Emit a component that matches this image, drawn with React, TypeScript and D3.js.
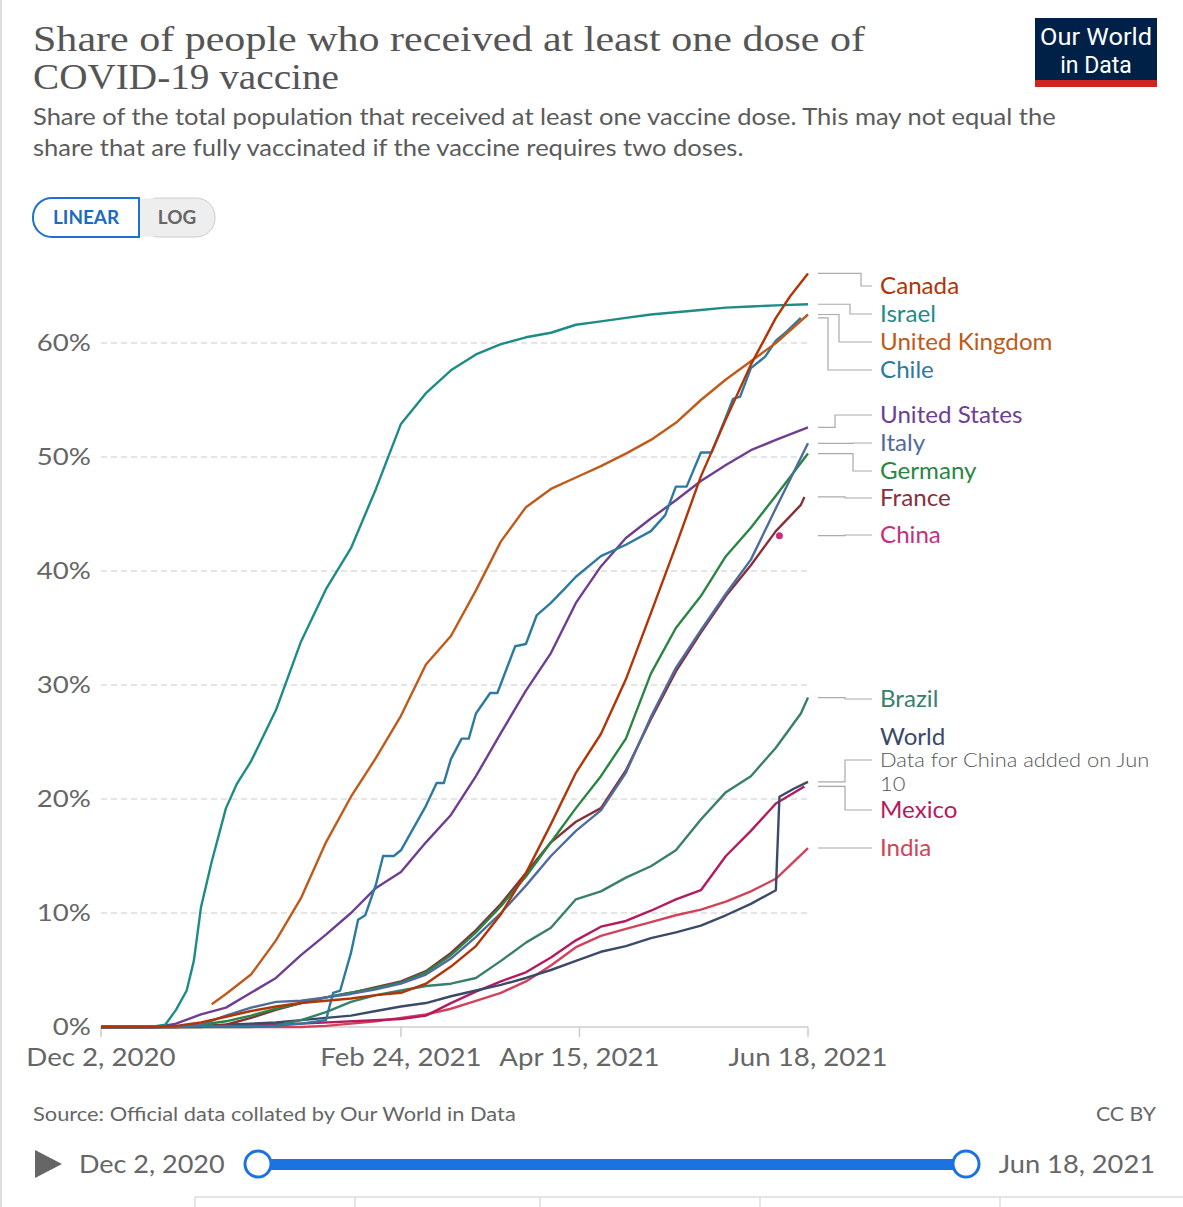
import React from "react";
import * as d3 from "d3";

type P = [string, number];

const START = "2020-12-02";
const END = "2021-06-18";

const canada: P[] = [
  ["2020-12-02", 0], ["2020-12-16", 0], ["2020-12-23", 0.1], ["2020-12-30", 0.4], ["2021-01-06", 0.9],
  ["2021-01-13", 1.4], ["2021-01-20", 1.8], ["2021-01-27", 2.1], ["2021-02-03", 2.3], ["2021-02-10", 2.5],
  ["2021-02-17", 2.8], ["2021-02-24", 3.0], ["2021-03-03", 3.8], ["2021-03-10", 5.3], ["2021-03-17", 7.1],
  ["2021-03-24", 9.9], ["2021-03-31", 13.5], ["2021-04-07", 17.8], ["2021-04-14", 22.3], ["2021-04-21", 25.7],
  ["2021-04-28", 30.5], ["2021-05-05", 36.3], ["2021-05-12", 42.2], ["2021-05-19", 48.3], ["2021-05-26", 53.3],
  ["2021-06-02", 58.1], ["2021-06-09", 62.2], ["2021-06-13", 64.1], ["2021-06-18", 66.1],
];

const israel: P[] = [
  ["2020-12-02", 0], ["2020-12-16", 0], ["2020-12-20", 0.2], ["2020-12-23", 1.5], ["2020-12-26", 3.2],
  ["2020-12-28", 5.8], ["2020-12-30", 10.5], ["2021-01-02", 14.5], ["2021-01-06", 19.2], ["2021-01-09", 21.3],
  ["2021-01-13", 23.3], ["2021-01-20", 27.8], ["2021-01-27", 33.8], ["2021-02-03", 38.4], ["2021-02-10", 42.0],
  ["2021-02-17", 47.2], ["2021-02-24", 52.9], ["2021-03-03", 55.6], ["2021-03-10", 57.6], ["2021-03-17", 59.0],
  ["2021-03-24", 59.9], ["2021-03-31", 60.5], ["2021-04-07", 60.9], ["2021-04-14", 61.6], ["2021-04-21", 61.9],
  ["2021-04-28", 62.2], ["2021-05-05", 62.5], ["2021-05-12", 62.7], ["2021-05-19", 62.9], ["2021-05-26", 63.1],
  ["2021-06-02", 63.2], ["2021-06-09", 63.3], ["2021-06-18", 63.4],
];

const unitedKingdom: P[] = [
  ["2021-01-02", 2.0], ["2021-01-06", 2.9], ["2021-01-13", 4.6], ["2021-01-20", 7.6], ["2021-01-27", 11.3],
  ["2021-02-03", 16.2], ["2021-02-10", 20.2], ["2021-02-17", 23.6], ["2021-02-24", 27.3], ["2021-03-03", 31.8],
  ["2021-03-10", 34.3], ["2021-03-17", 38.3], ["2021-03-24", 42.6], ["2021-03-31", 45.6], ["2021-04-07", 47.2],
  ["2021-04-14", 48.2], ["2021-04-21", 49.2], ["2021-04-28", 50.3], ["2021-05-05", 51.5], ["2021-05-12", 53.0],
  ["2021-05-19", 55.0], ["2021-05-26", 56.8], ["2021-06-02", 58.4], ["2021-06-09", 60.0], ["2021-06-18", 62.5],
];

const chile: P[] = [
  ["2020-12-02", 0], ["2021-01-20", 0.1], ["2021-01-27", 0.3], ["2021-02-03", 0.6], ["2021-02-05", 3.0],
  ["2021-02-07", 3.2], ["2021-02-10", 6.5], ["2021-02-12", 9.4], ["2021-02-14", 9.8], ["2021-02-17", 12.5],
  ["2021-02-19", 15.0], ["2021-02-22", 15.0], ["2021-02-24", 15.5], ["2021-03-03", 19.4], ["2021-03-06", 21.4],
  ["2021-03-08", 21.4], ["2021-03-10", 23.5], ["2021-03-13", 25.3], ["2021-03-15", 25.3], ["2021-03-17", 27.5],
  ["2021-03-21", 29.3], ["2021-03-23", 29.3], ["2021-03-28", 33.4], ["2021-03-31", 33.6], ["2021-04-03", 36.1],
  ["2021-04-07", 37.2], ["2021-04-11", 38.5], ["2021-04-14", 39.5], ["2021-04-21", 41.3], ["2021-04-28", 42.3],
  ["2021-05-05", 43.5], ["2021-05-09", 44.9], ["2021-05-12", 47.4], ["2021-05-15", 47.4], ["2021-05-19", 50.4],
  ["2021-05-22", 50.4], ["2021-05-26", 53.5], ["2021-05-28", 55.1], ["2021-05-30", 55.3], ["2021-06-02", 57.8],
  ["2021-06-06", 58.8], ["2021-06-09", 60.2], ["2021-06-12", 61.0], ["2021-06-16", 62.2],
];

const unitedStates: P[] = [
  ["2020-12-02", 0], ["2020-12-18", 0], ["2020-12-23", 0.3], ["2020-12-30", 1.1], ["2021-01-06", 1.7],
  ["2021-01-13", 3.0], ["2021-01-20", 4.3], ["2021-01-27", 6.3], ["2021-02-03", 8.1], ["2021-02-10", 10.0],
  ["2021-02-17", 12.2], ["2021-02-24", 13.6], ["2021-03-03", 16.2], ["2021-03-10", 18.6], ["2021-03-17", 22.0],
  ["2021-03-24", 25.8], ["2021-03-31", 29.5], ["2021-04-07", 32.8], ["2021-04-14", 37.2], ["2021-04-21", 40.4],
  ["2021-04-28", 42.9], ["2021-05-05", 44.6], ["2021-05-12", 46.2], ["2021-05-19", 47.9], ["2021-05-26", 49.3],
  ["2021-06-02", 50.6], ["2021-06-09", 51.5], ["2021-06-18", 52.6],
];

const italy: P[] = [
  ["2020-12-02", 0], ["2020-12-23", 0], ["2020-12-30", 0.2], ["2021-01-06", 1.0], ["2021-01-13", 1.7],
  ["2021-01-20", 2.2], ["2021-01-27", 2.3], ["2021-02-03", 2.6], ["2021-02-10", 2.9], ["2021-02-17", 3.3],
  ["2021-02-24", 3.8], ["2021-03-03", 4.6], ["2021-03-10", 6.0], ["2021-03-17", 7.9], ["2021-03-24", 10.0],
  ["2021-03-31", 12.4], ["2021-04-07", 15.0], ["2021-04-14", 17.2], ["2021-04-21", 19.0], ["2021-04-28", 22.3],
  ["2021-05-05", 27.2], ["2021-05-12", 31.5], ["2021-05-19", 34.8], ["2021-05-26", 38.0], ["2021-06-02", 41.0],
  ["2021-06-09", 45.5], ["2021-06-18", 51.2],
];

const germany: P[] = [
  ["2020-12-02", 0], ["2020-12-23", 0], ["2020-12-30", 0.2], ["2021-01-06", 0.5], ["2021-01-13", 1.0],
  ["2021-01-20", 1.6], ["2021-01-27", 2.1], ["2021-02-03", 2.6], ["2021-02-10", 3.0], ["2021-02-17", 3.4],
  ["2021-02-24", 3.9], ["2021-03-03", 4.8], ["2021-03-10", 6.3], ["2021-03-17", 8.3], ["2021-03-24", 10.6],
  ["2021-03-31", 13.2], ["2021-04-07", 16.2], ["2021-04-14", 19.2], ["2021-04-21", 22.0], ["2021-04-28", 25.3],
  ["2021-05-05", 31.0], ["2021-05-12", 35.0], ["2021-05-19", 37.8], ["2021-05-26", 41.3], ["2021-06-02", 43.8],
  ["2021-06-09", 46.6], ["2021-06-18", 50.3],
];

const france: P[] = [
  ["2020-12-02", 0], ["2020-12-30", 0], ["2021-01-06", 0.2], ["2021-01-13", 0.8], ["2021-01-20", 1.5],
  ["2021-01-27", 2.1], ["2021-02-03", 2.6], ["2021-02-10", 3.0], ["2021-02-17", 3.5], ["2021-02-24", 4.0],
  ["2021-03-03", 4.9], ["2021-03-10", 6.5], ["2021-03-17", 8.5], ["2021-03-24", 10.8], ["2021-03-31", 13.5],
  ["2021-04-07", 16.2], ["2021-04-14", 18.0], ["2021-04-21", 19.2], ["2021-04-28", 22.5], ["2021-05-05", 27.0],
  ["2021-05-12", 31.2], ["2021-05-19", 34.6], ["2021-05-26", 37.8], ["2021-06-02", 40.5], ["2021-06-09", 43.5],
  ["2021-06-16", 45.8], ["2021-06-17", 46.5],
];

const china: P[] = [["2021-06-10", 43.1]];

const brazil: P[] = [
  ["2020-12-02", 0], ["2021-01-13", 0], ["2021-01-20", 0.1], ["2021-01-27", 0.6], ["2021-02-03", 1.3],
  ["2021-02-10", 2.2], ["2021-02-17", 2.8], ["2021-02-24", 3.2], ["2021-03-03", 3.6], ["2021-03-10", 3.8],
  ["2021-03-17", 4.3], ["2021-03-24", 5.8], ["2021-03-31", 7.4], ["2021-04-07", 8.7], ["2021-04-14", 11.2],
  ["2021-04-21", 11.9], ["2021-04-28", 13.1], ["2021-05-05", 14.1], ["2021-05-12", 15.5], ["2021-05-19", 18.2],
  ["2021-05-26", 20.6], ["2021-06-02", 22.0], ["2021-06-09", 24.5], ["2021-06-16", 27.5], ["2021-06-18", 28.9],
];

const world: P[] = [
  ["2020-12-02", 0], ["2020-12-16", 0], ["2020-12-23", 0.05], ["2020-12-30", 0.1], ["2021-01-06", 0.2],
  ["2021-01-13", 0.3], ["2021-01-20", 0.4], ["2021-01-27", 0.6], ["2021-02-03", 0.8], ["2021-02-10", 1.0],
  ["2021-02-17", 1.4], ["2021-02-24", 1.8], ["2021-03-03", 2.1], ["2021-03-10", 2.7], ["2021-03-17", 3.2],
  ["2021-03-24", 3.7], ["2021-03-31", 4.3], ["2021-04-07", 5.0], ["2021-04-14", 5.8], ["2021-04-21", 6.6],
  ["2021-04-28", 7.1], ["2021-05-05", 7.8], ["2021-05-12", 8.3], ["2021-05-19", 8.9], ["2021-05-26", 9.8],
  ["2021-06-02", 10.8], ["2021-06-09", 12.0], ["2021-06-10", 20.2], ["2021-06-14", 20.9], ["2021-06-18", 21.5],
];

const mexico: P[] = [
  ["2020-12-02", 0], ["2020-12-23", 0], ["2020-12-30", 0.05], ["2021-01-27", 0.3], ["2021-02-24", 0.7],
  ["2021-03-03", 1.0], ["2021-03-10", 2.1], ["2021-03-17", 3.1], ["2021-03-24", 4.0], ["2021-03-31", 4.8],
  ["2021-04-07", 6.1], ["2021-04-14", 7.6], ["2021-04-21", 8.8], ["2021-04-28", 9.3], ["2021-05-05", 10.2],
  ["2021-05-12", 11.2], ["2021-05-19", 12.0], ["2021-05-26", 15.0], ["2021-06-02", 17.2], ["2021-06-09", 19.6],
  ["2021-06-17", 21.1],
];

const india: P[] = [
  ["2020-12-02", 0], ["2021-01-27", 0], ["2021-02-03", 0.1], ["2021-02-10", 0.3], ["2021-02-17", 0.5],
  ["2021-02-24", 0.8], ["2021-03-03", 1.1], ["2021-03-10", 1.6], ["2021-03-17", 2.3], ["2021-03-24", 3.0],
  ["2021-03-31", 4.0], ["2021-04-07", 5.4], ["2021-04-14", 7.0], ["2021-04-21", 8.0], ["2021-04-28", 8.6],
  ["2021-05-05", 9.2], ["2021-05-12", 9.8], ["2021-05-19", 10.3], ["2021-05-26", 11.0], ["2021-06-02", 11.9],
  ["2021-06-09", 13.0], ["2021-06-18", 15.7],
];

const yTicks = [0, 10, 20, 30, 40, 50, 60];
const xTickDates = ["2020-12-02", "2021-02-24", "2021-04-15", "2021-06-18"];
const xTickLabels = ["Dec 2, 2020", "Feb 24, 2021", "Apr 15, 2021", "Jun 18, 2021"];

const seriesNames = ["India", "Mexico", "World", "Brazil", "France", "Germany", "Italy", "United States", "Chile", "United Kingdom", "Israel", "Canada"];
const seriesData: P[][] = [india, mexico, world, brazil, france, germany, italy, unitedStates, chile, unitedKingdom, israel, canada];
const seriesColors = ["#D2435B", "#B41B5E", "#3B4A68", "#38806B", "#883039", "#2A8543", "#4F6C9E", "#6D3E91", "#2D7AA0", "#C05A1A", "#1E8C86", "#B13507"];

// label layout: name, label y, bend x
const labelLayout: [string, number, number][] = [
  ["Canada", 286, 861], ["Israel", 314, 850], ["United Kingdom", 342, 839], ["Chile", 370, 828],
  ["United States", 415, 835], ["Italy", 443, 853], ["Germany", 471, 853], ["France", 498, 845],
  ["China", 535, 845], ["Brazil", 699, 845], ["Mexico", 810, 845], ["India", 848, 845],
];

const parse = d3.timeParse("%Y-%m-%d");
const FONT = "Lato, 'Noto Sans', sans-serif";

function SText(props: {
  x: number; y: number; sx: number; size: number; fill: string; anchor?: "start" | "middle" | "end";
  weight?: number; dy?: string; children: React.ReactNode;
}) {
  const { x, y, sx, size, fill, anchor = "start", weight = 400, dy, children } = props;
  return (
    <text
      transform={`translate(${x},${y}) scale(${sx},1)`}
      x={0}
      y={0}
      dy={dy}
      textAnchor={anchor}
      fontFamily={FONT}
      fontSize={size}
      fontWeight={weight}
      fill={fill}
    >
      {children}
    </text>
  );
}

export default function App() {
  const W = 1183, H = 1207;
  const x = d3.scaleTime().domain([parse(START)!, parse(END)!]).range([101, 808]);
  const y = d3.scaleLinear().domain([0, 60]).range([1027, 343]);
  const line = d3.line<P>().x((d) => x(parse(d[0])!)).y((d) => y(d[1]));

  const colorOf = (n: string) => (n === "China" ? "#C5307E" : seriesColors[seriesNames.indexOf(n)]);
  const endOf = (n: string): P => {
    if (n === "China") return china[china.length - 1];
    const d = seriesData[seriesNames.indexOf(n)];
    return d[d.length - 1];
  };

  const worldEnd = world[world.length - 1];
  const mexicoEnd = mexico[mexico.length - 1];

  return (
    <div style={{ position: "absolute", left: 0, top: 0 }}>
      <svg width={W} height={H} viewBox={`0 0 ${W} ${H}`} style={{ display: "block", background: "#fff" }}>
        <rect x={0} y={0} width={W} height={H} fill="#fff" />
        <line x1={1} x2={1} y1={0} y2={H} stroke="#ddd" strokeWidth={2} />

        {/* Title */}
        <text x={33} y={51} fontFamily="'Liberation Serif', 'DejaVu Serif', serif" fontSize={36} fill="#555" textLength={832} lengthAdjust="spacingAndGlyphs">
          Share of people who received at least one dose of
        </text>
        <text x={33} y={89} fontFamily="'Liberation Serif', 'DejaVu Serif', serif" fontSize={36} fill="#555" textLength={306} lengthAdjust="spacingAndGlyphs">
          COVID-19 vaccine
        </text>
        <SText x={33} y={125} sx={1.135} size={22.5} fill="#5b5b5b">
          Share of the total population that received at least one vaccine dose. This may not equal the
        </SText>
        <SText x={33} y={156} sx={1.135} size={22.5} fill="#5b5b5b">
          share that are fully vaccinated if the vaccine requires two doses.
        </SText>

        {/* Logo */}
        <rect x={1035} y={18} width={122} height={69} fill="#002147" />
        <rect x={1035} y={80} width={122} height={7} fill="#CE261E" />
        <text x={1096} y={45} textAnchor="middle" fontFamily="'Roboto', 'Liberation Sans', sans-serif" fontSize={23} fill="#fff" textLength={112} lengthAdjust="spacingAndGlyphs">Our World</text>
        <text x={1096} y={73} textAnchor="middle" fontFamily="'Roboto', 'Liberation Sans', sans-serif" fontSize={23} fill="#fff">in Data</text>

        {/* Linear/Log toggle */}
        <rect x={139} y={198} width={76} height={39} rx={19} fill="#eee" stroke="#ccc" strokeWidth={1} />
        <rect x={125} y={198.5} width={30} height={38} fill="#eee" />
        <path d="M139,198 L52,198 A19,19 0 0 0 33,217 A19,19 0 0 0 52,237 L139,237 Z" fill="#fff" stroke="#1b73cf" strokeWidth={2} />
        <SText x={86} y={224} sx={1.05} size={18} weight={700} fill="#1b6cc0" anchor="middle">LINEAR</SText>
        <SText x={177} y={224} sx={1.05} size={18} weight={700} fill="#666" anchor="middle">LOG</SText>

        {/* Grid */}
        {yTicks.map((t) => (
          <g key={t}>
            {t > 0 && (
              <line x1={101} x2={808} y1={y(t)} y2={y(t)} stroke="#ddd" strokeWidth={1.5} strokeDasharray="6,4" />
            )}
            <SText x={91} y={y(t)} dy="0.35em" sx={1.15} size={24} fill="#666" anchor="end">
              {`${t}%`}
            </SText>
          </g>
        ))}
        <line x1={101} x2={808} y1={y(0)} y2={y(0)} stroke="#ccc" strokeWidth={1.5} />
        {xTickDates.map((d, i) => (
          <g key={d}>
            <line x1={x(parse(d)!)} x2={x(parse(d)!)} y1={y(0)} y2={y(0) + 10} stroke="#ccc" strokeWidth={1.5} />
            <SText x={x(parse(d)!)} y={1066} sx={1.13} size={24.5} fill="#666" anchor="middle">
              {xTickLabels[i]}
            </SText>
          </g>
        ))}

        {/* Lines */}
        {seriesData.map((d, i) => (
          <path key={seriesNames[i]} d={line(d) || ""} fill="none" stroke={seriesColors[i]} strokeWidth={2.4} strokeLinejoin="round" />
        ))}
        {china.map((d) => (
          <circle key={d[0]} cx={x(parse(d[0])!)} cy={y(d[1])} r={3.5} fill="#C5307E" />
        ))}

        {/* Labels & connectors */}
        {labelLayout.map(([n, ly, bx]) => {
          const e = endOf(n);
          const ey = y(e[1]);
          return (
            <g key={n}>
              <path d={`M818,${ey} H${bx} V${ly} H872`} fill="none" stroke="#aaa" strokeWidth={1.2} />
              <SText x={880} y={ly} dy="0.35em" sx={1.05} size={23} fill={colorOf(n)}>
                {n}
              </SText>
            </g>
          );
        })}
        <path d={`M818,${y(worldEnd[1])} H845 V760 H872`} fill="none" stroke="#aaa" strokeWidth={1.2} />
        <path d={`M818,${y(mexicoEnd[1])} H845`} fill="none" stroke="#aaa" strokeWidth={1.2} />
        <SText x={880} y={737} dy="0.35em" sx={1.05} size={23} fill="#3B4A68">World</SText>
        <SText x={880} y={760} dy="0.35em" sx={1.12} size={19.5} weight={300} fill="#555">Data for China added on Jun</SText>
        <SText x={880} y={784} dy="0.35em" sx={1.12} size={19.5} weight={300} fill="#555">10</SText>

        {/* Footer */}
        <SText x={33} y={1121} sx={1.15} size={19} fill="#666">Source: Official data collated by Our World in Data</SText>
        <SText x={1156} y={1121} sx={1.12} size={19} fill="#666" anchor="end">CC BY</SText>

        {/* Timeline */}
        <path d="M35,1150 L62,1164 L35,1178 Z" fill="#666" />
        <SText x={79} y={1173} sx={1.08} size={25} fill="#666">Dec 2, 2020</SText>
        <rect x={258} y={1159} width={708} height={11} fill="#1a73e0" />
        <circle cx={258} cy={1164} r={13} fill="#fff" stroke="#1a73e0" strokeWidth={3} />
        <circle cx={966} cy={1164} r={13} fill="#fff" stroke="#1a73e0" strokeWidth={3} />
        <SText x={1155} y={1173} sx={1.09} size={25} fill="#666" anchor="end">Jun 18, 2021</SText>

        {/* Tabs */}
        <line x1={195} x2={W} y1={1197} y2={1197} stroke="#ddd" strokeWidth={1.5} />
        {[195, 355, 540, 760, 1000].map((tx) => (
          <line key={tx} x1={tx} x2={tx} y1={1197} y2={H} stroke="#ddd" strokeWidth={1.5} />
        ))}
      </svg>
    </div>
  );
}
